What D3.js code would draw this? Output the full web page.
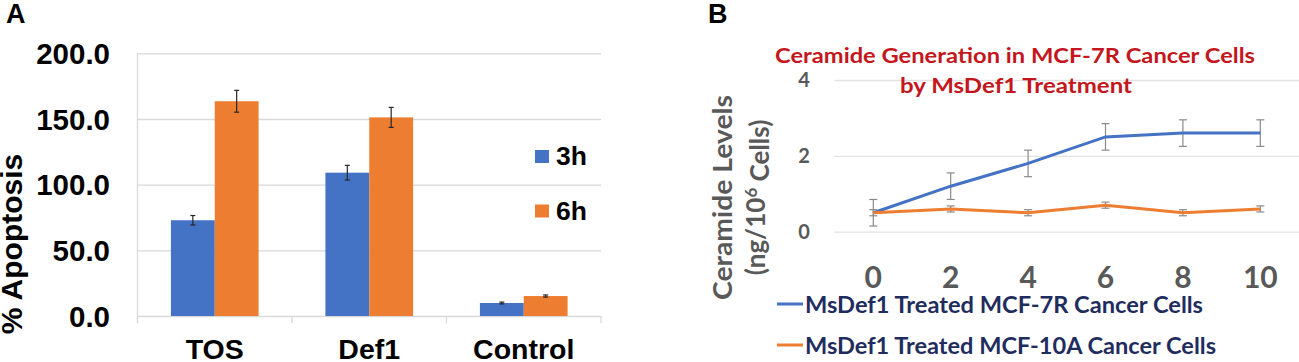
<!DOCTYPE html>
<html>
<head>
<meta charset="utf-8">
<script src="https://cdn.jsdelivr.net/npm/d3@7"></script>
<style>
  body { margin: 0; background: #fff; }
  svg { display: block; }
  .arial { font-family: 'Liberation Sans', Arial, sans-serif; font-weight: bold; }
  .cal { font-family: Lato, 'Open Sans', sans-serif; font-weight: bold; }
</style>
</head>
<body>
<div id="chart"></div>
<script>
// panel A data
const categories = ['TOS', 'Def1', 'Control'];
const seriesA = ['3h', '6h'];
const apoptosis3h = [72.9, 109.1, 9.9];
const apoptosis6h = [163.5, 151.2, 15.2];
const err3h = [3.6, 5.6, 0.7];
const err6h = [8.3, 7.6, 0.8];
const ticksA = [0, 50, 100, 150, 200];

// panel B data
const hours = [0, 2, 4, 6, 8, 10];
const ceramide7R = [0.5, 1.2, 1.8, 2.5, 2.6, 2.6];
const ceramide10A = [0.5, 0.6, 0.5, 0.7, 0.5, 0.6];
const errB7R = [0.35, 0.35, 0.35, 0.35, 0.35, 0.35];
const errB10A = [0.08, 0.08, 0.08, 0.08, 0.08, 0.08];
const ticksB = [0, 2, 4];
const seriesB = ['MsDef1 Treated MCF-7R Cancer Cells', 'MsDef1 Treated MCF-10A Cancer Cells'];

const width = 1299, height = 362;
const blue = '#4472c4', orange = '#ed7d31';

const svg = d3.select('#chart').append('svg')
  .attr('width', width).attr('height', height);

// ---------- Panel A ----------
const xA = d3.scaleBand().domain(categories).range([137.5, 601]);
const xSub = d3.scaleBand().domain(seriesA).range([0, xA.bandwidth()]).paddingOuter(0.762);
const yA = d3.scaleLinear().domain([0, 200]).range([316, 53.3]);
const colorA = d3.scaleOrdinal().domain(seriesA).range([blue, orange]);

svg.append('text').attr('class', 'arial')
  .attr('x', 6).attr('y', 23.3).style('font-size', '27px').text('A');

// gridlines
svg.append('g')
  .attr('transform', 'translate(137.5,0)')
  .call(d3.axisLeft(yA).tickValues(ticksA).tickSize(-(601 - 137.5)).tickFormat(''))
  .call(g => g.select('.domain').remove())
  .call(g => g.selectAll('line').attr('stroke', '#d9d9d9').attr('stroke-width', 1.3));

// y tick labels
svg.append('g').selectAll('text')
  .data(ticksA).enter().append('text')
  .attr('class', 'arial')
  .attr('x', 110).attr('y', d => yA(d)).attr('dy', '0.36em')
  .style('text-anchor', 'end').style('font-size', '29.5px')
  .text(d => d3.format('.1f')(d));

// left axis line and category ticks
svg.append('line').attr('x1', 137.5).attr('x2', 137.5).attr('y1', 53.3).attr('y2', 323)
  .attr('stroke', '#d9d9d9').attr('stroke-width', 1.3);
const bounds = categories.map(c => xA(c)).concat([xA.range()[1]]);
svg.append('g').selectAll('line')
  .data(bounds).enter().append('line')
  .attr('x1', d => d).attr('x2', d => d).attr('y1', 316).attr('y2', 323)
  .attr('stroke', '#d9d9d9').attr('stroke-width', 1.3);

const rowsA = categories.map((c, i) => ({
  cat: c,
  vals: [
    { s: '3h', v: apoptosis3h[i], e: err3h[i] },
    { s: '6h', v: apoptosis6h[i], e: err6h[i] }
  ]
}));

const groups = svg.append('g').selectAll('g')
  .data(rowsA).enter().append('g')
  .attr('transform', d => `translate(${xA(d.cat)},0)`);

groups.selectAll('rect')
  .data(d => d.vals).enter().append('rect')
  .attr('x', d => xSub(d.s)).attr('width', xSub.bandwidth())
  .attr('y', d => yA(d.v)).attr('height', d => yA(0) - yA(d.v))
  .attr('fill', d => colorA(d.s));

const errA = groups.selectAll('.err')
  .data(d => d.vals).enter().append('g').attr('class', 'err')
  .attr('stroke', '#262626').attr('stroke-width', 1.2);
errA.append('line')
  .attr('x1', d => xSub(d.s) + xSub.bandwidth() / 2).attr('x2', d => xSub(d.s) + xSub.bandwidth() / 2)
  .attr('y1', d => yA(d.v + d.e)).attr('y2', d => yA(d.v - d.e));
[1, -1].forEach(sign => {
  errA.append('line')
    .attr('x1', d => xSub(d.s) + xSub.bandwidth() / 2 - 2.5).attr('x2', d => xSub(d.s) + xSub.bandwidth() / 2 + 2.5)
    .attr('y1', d => yA(d.v + sign * d.e)).attr('y2', d => yA(d.v + sign * d.e));
});

// x labels
svg.append('g').selectAll('text')
  .data(categories).enter().append('text')
  .attr('class', 'arial')
  .attr('x', d => xA(d) + xA.bandwidth() / 2).attr('y', 359.3)
  .style('text-anchor', 'middle').style('font-size', '28.5px')
  .text(d => d);

svg.append('text').attr('class', 'arial')
  .attr('transform', 'translate(22,244) rotate(-90)')
  .style('text-anchor', 'middle').style('font-size', '30px')
  .text('% Apoptosis');

// legend A
const legA = svg.append('g').selectAll('g')
  .data(seriesA).enter().append('g')
  .attr('transform', (d, i) => `translate(535, ${150 + i * 54.5})`);
legA.append('rect').attr('width', 14).attr('height', 13).attr('fill', d => colorA(d));
legA.append('text').attr('class', 'arial')
  .attr('x', 21).attr('y', 15).style('font-size', '26.5px').text(d => d);

// ---------- Panel B ----------
const xB = d3.scaleLinear().domain([0, 10]).range([873.3, 1260.3]);
const yB = d3.scaleLinear().domain([0, 4]).range([231.7, 80]);
const grey = '#595959';

svg.append('text').attr('class', 'arial')
  .attr('x', 708).attr('y', 23.3).style('font-size', '27px').text('B');

svg.append('g')
  .attr('transform', 'translate(834.3,0)')
  .call(d3.axisLeft(yB).tickValues(ticksB).tickSize(-(width - 834.3)).tickFormat(''))
  .call(g => g.select('.domain').remove())
  .call(g => g.selectAll('line').attr('stroke', '#e3e3e3').attr('stroke-width', 1.3));

svg.append('g').selectAll('text')
  .data(ticksB).enter().append('text')
  .attr('class', 'cal')
  .attr('x', 804).attr('y', d => yB(d)).attr('dy', '0.36em')
  .style('text-anchor', 'middle').style('font-size', '20px').style('fill', grey)
  .text(d => d);

svg.append('g').selectAll('text')
  .data(hours).enter().append('text')
  .attr('class', 'cal')
  .attr('x', d => xB(d)).attr('y', 288.3)
  .style('text-anchor', 'middle').style('font-size', '30px').style('fill', grey)
  .text(d => d);

// title
svg.append('text').attr('class', 'cal')
  .attr('x', 1015).attr('y', 62.7).style('text-anchor', 'middle')
  .style('font-size', '20px').style('fill', '#c4161c')
  .attr('textLength', 480).attr('lengthAdjust', 'spacingAndGlyphs')
  .text('Ceramide Generation in MCF-7R Cancer Cells');
svg.append('text').attr('class', 'cal')
  .attr('x', 1016).attr('y', 93.3).style('text-anchor', 'middle')
  .style('font-size', '20px').style('fill', '#c4161c')
  .attr('textLength', 232).attr('lengthAdjust', 'spacingAndGlyphs')
  .text('by MsDef1 Treatment');

// y title
svg.append('text').attr('class', 'cal')
  .attr('transform', 'translate(731.5,197.5) rotate(-90)')
  .style('text-anchor', 'middle').style('font-size', '26px').style('fill', grey)
  .attr('textLength', 205).attr('lengthAdjust', 'spacingAndGlyphs')
  .text('Ceramide Levels');
const yt2 = svg.append('text').attr('class', 'cal')
  .attr('transform', 'translate(765,197.5) rotate(-90)')
  .style('text-anchor', 'middle').style('font-size', '26px').style('fill', grey);
yt2.append('tspan').text('(ng/10');
yt2.append('tspan').attr('dy', '-0.45em').style('font-size', '17px').text('6');
yt2.append('tspan').attr('dy', '0.45em').text(' Cells)');

const linesB = [
  { name: seriesB[0], color: blue, vals: ceramide7R, errs: errB7R },
  { name: seriesB[1], color: orange, vals: ceramide10A, errs: errB10A }
];

const line = d3.line().x(d => xB(d.x)).y(d => yB(d.y));

linesB.forEach(s => {
  const pts = hours.map((h, i) => ({ x: h, y: s.vals[i], e: s.errs[i] }));
  const eg = svg.append('g').attr('stroke', '#8a8a8a').attr('stroke-width', 1.2);
  eg.selectAll('.v').data(pts).enter().append('line')
    .attr('x1', d => xB(d.x)).attr('x2', d => xB(d.x))
    .attr('y1', d => yB(d.y + d.e)).attr('y2', d => yB(d.y - d.e));
  [1, -1].forEach(sign => {
    eg.selectAll('.c' + sign).data(pts).enter().append('line')
      .attr('x1', d => xB(d.x) - 4).attr('x2', d => xB(d.x) + 4)
      .attr('y1', d => yB(d.y + sign * d.e)).attr('y2', d => yB(d.y + sign * d.e));
  });
  svg.append('path').datum(pts)
    .attr('d', line).attr('fill', 'none')
    .attr('stroke', s.color).attr('stroke-width', 3);
});

// legend B
const legB = svg.append('g').selectAll('g')
  .data(linesB).enter().append('g')
  .attr('transform', (d, i) => `translate(777, ${304 + i * 41})`);
legB.append('line').attr('x1', 0).attr('x2', 26).attr('y1', 0).attr('y2', 0)
  .attr('stroke', d => d.color).attr('stroke-width', 3);
legB.append('text').attr('class', 'cal')
  .attr('x', 28).attr('y', 8.5).style('font-size', '23px').style('fill', '#1f2d5e')
  .attr('textLength', (d, i) => i === 0 ? 398 : 411).attr('lengthAdjust', 'spacingAndGlyphs')
  .text(d => d.name);
</script>
</body>
</html>
